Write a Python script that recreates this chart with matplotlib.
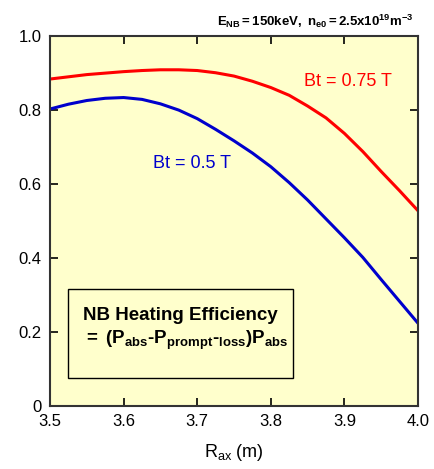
import matplotlib
matplotlib.use('Agg')
import matplotlib.pyplot as plt
from matplotlib.patches import Rectangle

plt.rcParams['font.family'] = ['Liberation Sans', 'DejaVu Sans']
plt.rcParams['mathtext.fontset'] = 'custom'
plt.rcParams['mathtext.rm'] = 'Liberation Sans'
plt.rcParams['mathtext.bf'] = 'Liberation Sans:bold'
plt.rcParams['mathtext.it'] = 'Liberation Sans'

r_ax = [3.50, 3.525, 3.55, 3.575, 3.60, 3.625, 3.65, 3.675, 3.70, 3.725, 3.75,
        3.775, 3.80, 3.825, 3.85, 3.875, 3.90, 3.925, 3.95, 3.975, 4.00]
eff_075 = [0.884, 0.890, 0.896, 0.900, 0.904, 0.907, 0.909, 0.909, 0.907, 0.901, 0.892,
           0.878, 0.861, 0.840, 0.811, 0.779, 0.737, 0.688, 0.634, 0.582, 0.528]
eff_05 = [0.803, 0.816, 0.826, 0.832, 0.834, 0.829, 0.817, 0.800, 0.777, 0.748, 0.717,
          0.684, 0.647, 0.604, 0.557, 0.506, 0.455, 0.402, 0.342, 0.283, 0.224]

xticks = [3.5, 3.6, 3.7, 3.8, 3.9, 4.0]
yticks = [0, 0.2, 0.4, 0.6, 0.8, 1.0]
ylabels = ['0', '0.2', '0.4', '0.6', '0.8', '1.0']

fig = plt.figure(figsize=(4.35, 4.69), dpi=100)
ax = fig.add_axes([0.115, 0.134, 0.846, 0.789])
ax.set_facecolor('#FFFFCC')

ax.plot(r_ax, eff_075, color='#FF0000', lw=2.2)
ax.plot(r_ax, eff_05, color='#0000CC', lw=2.2)

ax.set_xlim(3.5, 4.0)
ax.set_ylim(0, 1.0)
ax.set_xticks(xticks)
ax.set_xticklabels(['%.1f' % t for t in xticks])
ax.set_yticks(yticks)
ax.set_yticklabels(ylabels)
ax.tick_params(direction='in', top=True, right=True, length=6, width=1.2,
               labelsize=12, pad=6, colors='black')
for s in ax.spines.values():
    s.set_linewidth(1.5)
    s.set_color('#333333')

ax.set_xlabel(r'R$_{\mathrm{ax}}$ (m)', fontsize=13, labelpad=9)

ax.text(3.640, 0.657, 'Bt = 0.5 T', color='#0000CC', fontsize=13, va='center')
ax.text(3.845, 0.876, 'Bt = 0.75 T', color='#FF0000', fontsize=13, va='center')

fig.text(0.95, 0.955, r'$\mathbf{E_{NB}=150keV,\ n_{e0}=2.5x10^{19}m^{-3}}$',
         ha='right', va='center', fontsize=9.5)

ax.add_patch(Rectangle((0.049, 0.076), 0.611, 0.240, transform=ax.transAxes,
                       facecolor='none', edgecolor='black', lw=1.0))
ax.text(0.090, 0.245, 'NB Heating Efficiency', transform=ax.transAxes,
        fontsize=13.5, fontweight='bold', va='center')
ax.text(0.090, 0.178, r'$\mathbf{=\ (P_{abs}}$-$\mathbf{P_{prompt}}$-$\mathbf{_{loss})P_{abs}}$',
        transform=ax.transAxes, fontsize=13.5, fontweight='bold', va='center')

fig.savefig('out.png', dpi=100)
